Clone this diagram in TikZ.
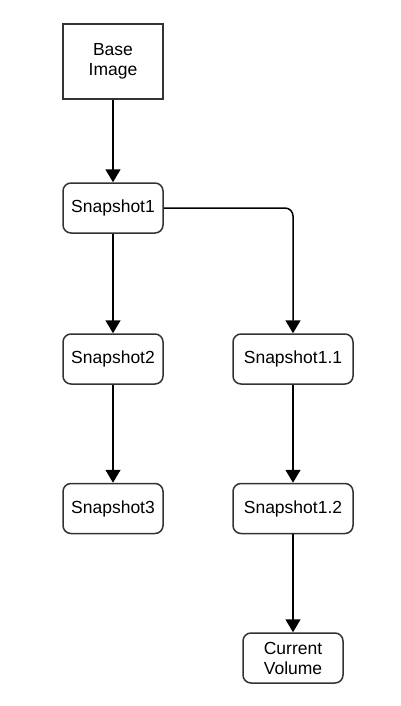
\documentclass[tikz,border=0pt]{standalone}
\usepackage{fontspec}
\setmainfont{Liberation Sans}
\usepackage{xcolor}
\usetikzlibrary{arrows.meta, positioning}

\definecolor{boxgray}{HTML}{333333}

\begin{document}
\begin{tikzpicture}[x = 1pt, y = -1pt,
		box/.style = {draw = boxgray, line width = 1.5pt, minimum width = 100pt, minimum height = 50pt,
			inner sep = 0pt, align = center, font = \fontsize{17.5}{20}\selectfont},
		snap/.style = {box, rounded corners = 8pt},
		link/.style = {-{Triangle[length = 13pt, width = 15pt]}, line width = 1.5pt}]
					\useasboundingbox (0,0) rectangle (401,706);

					\begin{scope}
						\node [box, minimum height = 75pt] (base) at (113,61.5) {Base\\Image};
						\node [snap] (snap1) at (113,208) {Snapshot1};
						\node [snap] (snap2) at (113,359) {Snapshot2};
						\node [snap] (snap3) at (113,508.5) {Snapshot3};
						\node [snap, minimum width = 120pt] (snap11) at (293,359) {Snapshot1.1};
						\node [snap, minimum width = 120pt] (snap12) at (293,508.5) {Snapshot1.2};
						\node [snap] (current) at (293,658) {Current\\Volume};
					\end{scope}

					\begin{scope}[link]
						\draw (base) -- (snap1);
						\draw (snap1) -- (snap2);
						\draw (snap2) -- (snap3);
						\draw [rounded corners = 8pt] (snap1.east) -| (snap11.north);
						\draw (snap11) -- (snap12);
						\draw (snap12) -- (current);
					\end{scope}
				\end{tikzpicture}
\end{document}
